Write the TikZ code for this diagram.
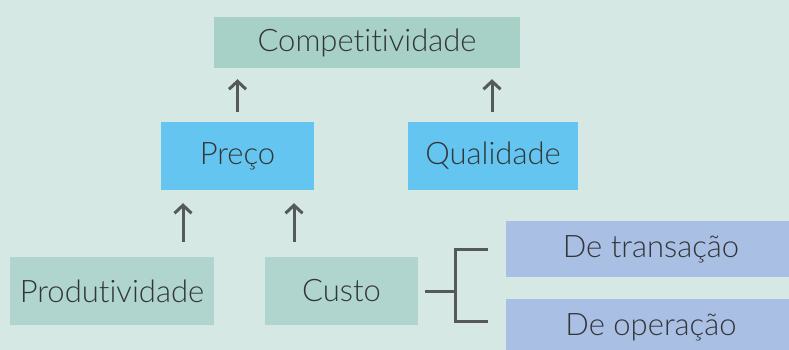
\documentclass[tikz,border=0pt]{standalone}
\usepackage{fontspec}
\setmainfont{Lato Light}[Ligatures=NoCommon]
\usetikzlibrary{arrows.meta}

\definecolor{fundo}{HTML}{D5E8E3}
\definecolor{verdeA}{HTML}{A7D0C7}
\definecolor{verdeB}{HTML}{B0D5CF}
\definecolor{azul}{HTML}{64C6F0}
\definecolor{lilas}{HTML}{A9BFE3}
\definecolor{seta}{HTML}{55595C}
\definecolor{texto}{HTML}{333638}

\tikzset{
  caixa/.style={rectangle, inner sep=0pt, text=texto, font=\fontsize{31}{36}\selectfont},
  sobe/.style={draw=seta, line width=3pt, -{Straight Barb[length=8pt,width=17pt,line width=3pt]}},
  chave/.style={draw=seta, line width=3pt}
}

\begin{document}
\begin{tikzpicture}[x=1pt,y=-1pt]
            \fill[fundo] (0,0) rectangle (789,350);
            \useasboundingbox (0,0) rectangle (789,350);

            \node[caixa, fill=verdeA, minimum width=306pt, minimum height=51pt] (comp) at (367,42.5) {Competitividade};

            \node[caixa, fill=azul, minimum width=153pt, minimum height=68pt] (preco) at (237.5,156) {Preço};
            \node[caixa, fill=azul, minimum width=170pt, minimum height=68pt] (qual) at (493,156) {Qualidade};

            \node[caixa, fill=verdeB, minimum width=204pt, minimum height=68pt] (prod) at (112,291) {Produtividade};
            \node[caixa, fill=verdeB, minimum width=153pt, minimum height=68pt] (custo) at (341.5,291) {Custo};

            \node[caixa, fill=lilas, minimum width=290pt, minimum height=56pt] (trans) at (651,249) {De transação};
            \node[caixa, fill=lilas, minimum width=290pt, minimum height=56pt] (oper) at (651,327) {De operação};

            \draw[sobe, shorten <=10pt, shorten >=11pt] (preco.north) -- (preco.north |- comp.south);
            \draw[sobe, shorten <=10pt, shorten >=11pt] ([xshift=-1pt]qual.north) -- ([xshift=-1pt]qual.north |- comp.south);

            \draw[sobe, shorten <=15pt, shorten >=13pt] ([xshift=71pt]prod.north) -- ([xshift=71pt]prod.north |- preco.south);
            \draw[sobe, shorten <=15pt, shorten >=13pt] ([xshift=-47.5pt]custo.north) -- ([xshift=-47.5pt]custo.north |- preco.south);

            \draw[chave] ([xshift=7pt]custo.east) -- ++(30,0) coordinate (meio);
            \draw[chave] ([xshift=-18pt]trans.west) -| (meio) |- ([xshift=-18pt,yshift=6pt]oper.west);

        \end{tikzpicture}
\end{document}
